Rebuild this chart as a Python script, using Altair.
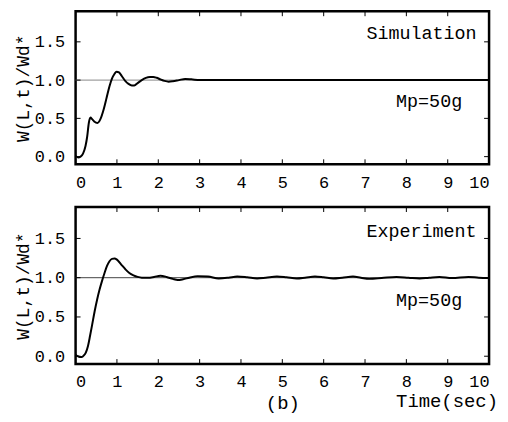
import altair as alt
import pandas as pd

# Simulation response
t_sim = [0.0, 0.06, 0.12, 0.18, 0.24, 0.28, 0.32, 0.36, 0.40, 0.45, 0.53, 0.60, 0.68, 0.75,
         0.82, 0.88, 0.94, 0.99, 1.05, 1.12, 1.20, 1.28, 1.36, 1.42, 1.50, 1.60, 1.70, 1.80,
         1.88, 1.96, 2.05, 2.15, 2.25, 2.35, 2.50, 2.65, 2.80, 3.00, 3.30, 3.60, 4.0, 5.0,
         6.0, 7.0, 8.0, 9.0, 10.0]
v_sim = [0.01, -0.01, 0.00, 0.04, 0.14, 0.26, 0.44, 0.51, 0.49, 0.46, 0.44, 0.49, 0.62, 0.77,
         0.92, 1.02, 1.08, 1.11, 1.10, 1.05, 0.99, 0.95, 0.93, 0.93, 0.96, 1.00, 1.03, 1.04,
         1.04, 1.03, 1.01, 0.99, 0.98, 0.985, 1.00, 1.015, 1.01, 1.00, 1.00, 1.00, 1.00, 1.00,
         1.00, 1.00, 1.00, 1.00, 1.00]

# Experiment response
t_exp = [0.0, 0.05, 0.10, 0.15, 0.20, 0.25, 0.30, 0.35, 0.40, 0.46, 0.52, 0.58, 0.64, 0.70,
         0.76, 0.82, 0.88, 0.94, 1.00, 1.10, 1.20, 1.30, 1.40, 1.50, 1.60, 1.75, 1.90, 2.05,
         2.20, 2.35, 2.47, 2.60, 2.75, 2.95, 3.20, 3.46, 3.70, 3.91, 4.15, 4.39, 4.60, 4.87,
         5.10, 5.35, 5.55, 5.79, 6.00, 6.23, 6.45, 6.71, 6.90, 7.10, 7.40, 7.76, 8.05, 8.32,
         8.55, 8.80, 9.10, 9.50, 9.75, 10.0]
v_exp = [0.02, 0.00, -0.01, -0.01, 0.01, 0.05, 0.13, 0.26, 0.40, 0.57, 0.72, 0.85, 0.96, 1.06,
         1.15, 1.21, 1.24, 1.245, 1.23, 1.17, 1.11, 1.06, 1.03, 1.01, 1.00, 1.00, 1.01, 1.025,
         1.01, 0.985, 0.97, 0.98, 1.00, 1.02, 1.015, 0.99, 1.00, 1.015, 1.005, 0.99, 1.00, 1.015,
         1.005, 0.99, 1.00, 1.015, 1.005, 0.99, 1.00, 1.015, 1.00, 0.985, 0.995, 1.01, 1.00, 0.99,
         1.00, 1.01, 0.995, 1.01, 1.00, 0.995]

x_ticks = [0, 1, 2, 3, 4, 5, 6, 7, 8, 9, 10]
y_ticks = [0.0, 0.5, 1.0, 1.5]
reference_level = [1.0]
panel_names = ["Simulation", "Experiment"]
mass_label = "Mp=50g"
label_t = [9.7, 9.35]
label_v_sim = [1.62, 0.73]
label_v_exp = [1.59, 0.71]

FONT = "Liberation Mono"
W = 416


def panel(t, v, name, label_v, height, x_title, ref_color):
    xscale = alt.Scale(domain=[0, 10], nice=False, zero=False)
    yscale = alt.Scale(domain=[-0.1, 1.9], nice=False, zero=False)
    xaxis = alt.Axis(values=x_ticks, format="d", title=x_title, labelPadding=10,
                     titlePadding=4, titleFontWeight="normal", titleFontSize=19)
    yaxis = alt.Axis(values=y_ticks, format=".1f", title="W(L,t)/Wd*", labelPadding=11,
                     titlePadding=2, titleFontWeight="normal")

    df = pd.DataFrame({"t": t, "v": v})
    ref = alt.Chart(pd.DataFrame({"v": reference_level})).mark_rule(
        color=ref_color, strokeWidth=1
    ).encode(y=alt.Y("v:Q", scale=yscale, axis=yaxis))
    line = alt.Chart(df).mark_line(
        color="black", strokeWidth=2, interpolate="monotone"
    ).encode(
        x=alt.X("t:Q", scale=xscale, axis=xaxis),
        y=alt.Y("v:Q", scale=yscale, axis=yaxis),
    )
    dxt = pd.DataFrame({"t": x_ticks})
    dyt = pd.DataFrame({"v": y_ticks})
    tb = alt.Chart(dxt).mark_rule(color="black").encode(
        x=alt.X("t:Q", scale=xscale, axis=xaxis), y=alt.value(height), y2=alt.value(height - 5))
    tt = alt.Chart(dxt).mark_rule(color="black").encode(
        x=alt.X("t:Q", scale=xscale, axis=xaxis), y=alt.value(0), y2=alt.value(5))
    tl = alt.Chart(dyt).mark_rule(color="black").encode(
        y=alt.Y("v:Q", scale=yscale, axis=yaxis), x=alt.value(0), x2=alt.value(5))
    tr = alt.Chart(dyt).mark_rule(color="black").encode(
        y=alt.Y("v:Q", scale=yscale, axis=yaxis), x=alt.value(W), x2=alt.value(W - 5))
    lab = pd.DataFrame({"t": label_t, "v": label_v, "s": [name, mass_label]})
    txt = alt.Chart(lab).mark_text(
        align="right", baseline="middle", font=FONT, fontSize=18.5, color="black"
    ).encode(
        x=alt.X("t:Q", scale=xscale, axis=xaxis),
        y=alt.Y("v:Q", scale=yscale, axis=yaxis),
        text="s:N",
    )
    return alt.layer(ref, line, tb, tt, tl, tr, txt).properties(width=W, height=height)


top = panel(t_sim, v_sim, panel_names[0], label_v_sim, 154, None, "#888888")
bottom = panel(t_exp, v_exp, panel_names[1], label_v_exp, 158, "(b)", "#444444").properties(
    title=alt.TitleParams("Time(sec)", orient="bottom", anchor="end", frame="group",
                          font=FONT, fontSize=19, fontWeight="normal", dx=9, offset=-21)
)

chart = alt.vconcat(top, bottom, spacing=13).properties(
    padding={"left": 5, "top": 0, "right": 0, "bottom": 0},
    background="white",
).configure_view(
    stroke="black", strokeWidth=2.5
).configure_axis(
    domain=False, grid=False, ticks=False,
    labelFont=FONT, labelFontSize=17, labelColor="black",
    titleFont=FONT, titleFontSize=18, titleColor="black",
)

chart.save("out.html", embed_options={"renderer": "svg", "actions": False})
